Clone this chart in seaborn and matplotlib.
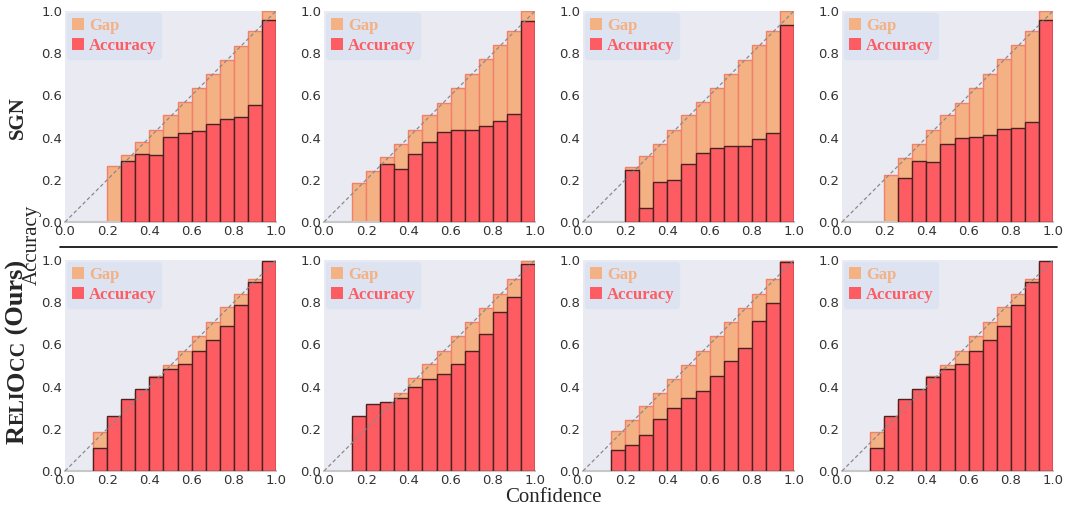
import numpy as np
import pandas as pd
import matplotlib
matplotlib.use("Agg")
import matplotlib.pyplot as plt
from matplotlib.patches import Patch
from matplotlib.lines import Line2D
import seaborn as sns

# ---- data (15 confidence bins, 0 = empty bin) ----
n_bins = 15
bin_centers = (np.arange(n_bins) + 0.5) / n_bins

sgn_conf = [
    [0, 0, 0, 0.264, 0.316, 0.378, 0.438, 0.509, 0.567, 0.633, 0.700, 0.766, 0.836, 0.904, 1.0],
    [0, 0, 0.184, 0.241, 0.307, 0.372, 0.438, 0.509, 0.566, 0.633, 0.701, 0.771, 0.837, 0.903, 1.0],
    [0, 0, 0, 0.259, 0.312, 0.372, 0.435, 0.505, 0.568, 0.634, 0.701, 0.767, 0.837, 0.903, 1.0],
    [0, 0, 0, 0.225, 0.302, 0.372, 0.438, 0.509, 0.566, 0.633, 0.701, 0.771, 0.837, 0.903, 1.0],
]
sgn_acc = [
    [0, 0, 0, 0, 0.291, 0.324, 0.318, 0.401, 0.422, 0.433, 0.466, 0.487, 0.499, 0.556, 0.959],
    [0, 0, 0, 0, 0.275, 0.253, 0.320, 0.377, 0.427, 0.435, 0.435, 0.456, 0.479, 0.513, 0.951],
    [0, 0, 0, 0.248, 0.068, 0.191, 0.201, 0.277, 0.329, 0.353, 0.362, 0.362, 0.392, 0.421, 0.934],
    [0, 0, 0, 0, 0.210, 0.291, 0.286, 0.370, 0.397, 0.405, 0.411, 0.440, 0.446, 0.475, 0.957],
]
ours_conf = [
    [0, 0, 0.186, 0.250, 0.320, 0.375, 0.448, 0.503, 0.571, 0.638, 0.706, 0.775, 0.841, 0.908, 0.985],
    [0, 0, 0.180, 0.245, 0.310, 0.370, 0.440, 0.505, 0.571, 0.638, 0.706, 0.773, 0.841, 0.908, 0.995],
    [0, 0, 0.189, 0.241, 0.308, 0.370, 0.438, 0.503, 0.571, 0.638, 0.705, 0.773, 0.841, 0.908, 0.995],
    [0, 0, 0.186, 0.250, 0.320, 0.375, 0.448, 0.503, 0.571, 0.638, 0.706, 0.775, 0.841, 0.908, 0.985],
]
ours_acc = [
    [0, 0, 0.111, 0.260, 0.341, 0.389, 0.444, 0.484, 0.508, 0.567, 0.619, 0.689, 0.789, 0.894, 0.995],
    [0, 0, 0.262, 0.317, 0.329, 0.348, 0.400, 0.438, 0.462, 0.508, 0.570, 0.651, 0.752, 0.825, 0.979],
    [0, 0, 0.098, 0.122, 0.171, 0.246, 0.300, 0.348, 0.379, 0.451, 0.522, 0.584, 0.710, 0.798, 0.989],
    [0, 0, 0.111, 0.260, 0.341, 0.389, 0.444, 0.484, 0.508, 0.567, 0.619, 0.689, 0.789, 0.894, 0.995],
]
tick_vals = [0.0, 0.2, 0.4, 0.6, 0.8, 1.0]

GAP_C = "#F4B183"
GAP_EDGE = "#F0806A"
ACC_C = "#FD5C63"
ACC_EDGE = "#4A2222"
SERIF = ["Liberation Serif", "DejaVu Serif"]

sns.set_style("dark")
W, H = 1067, 511
fig = plt.figure(figsize=(W / 100, H / 100), dpi=100)

col_left = [65, 324, 583, 842]
row_top = [11, 260]
ax_size = 211


def draw_panel(ax, conf, acc):
    df = pd.DataFrame({"center": bin_centers, "conf": conf, "acc": acc})
    g = df[df["conf"] > 0]
    a = df[df["acc"] > 0]
    sns.barplot(data=g, x="center", y="conf", native_scale=True, width=1,
                color=GAP_C, edgecolor=GAP_EDGE, linewidth=1, saturation=1,
                errorbar=None, ax=ax, zorder=2)
    sns.barplot(data=a, x="center", y="acc", native_scale=True, width=1,
                color=ACC_C, edgecolor=ACC_EDGE, linewidth=1, saturation=1,
                errorbar=None, ax=ax, zorder=3)
    ax.plot([0, 1], [0, 1], ls=(0, (3, 2)), color="#8a8a8a", lw=0.9, zorder=4)
    ax.set_xlim(0, 1)
    ax.set_ylim(0, 1)
    ax.set_xticks(tick_vals)
    ax.set_yticks(tick_vals)
    ax.set_xticklabels([f"{v:.1f}" for v in tick_vals])
    ax.set_yticklabels([f"{v:.1f}" for v in tick_vals])
    ax.set(xlabel="", ylabel="")
    ax.tick_params(labelsize=9.5, length=0, pad=2, colors="#333333")
    for side in ["top", "left", "right"]:
        ax.spines[side].set_visible(False)
    ax.spines["bottom"].set_color("#c8c8c8")
    ax.spines["bottom"].set_linewidth(1.5)
    handles = [Patch(facecolor=GAP_C, edgecolor="none"), Patch(facecolor=ACC_C, edgecolor="none")]
    leg = ax.legend(handles, ["Gap", "Accuracy"], loc="upper left",
                    prop={"family": SERIF, "weight": "bold", "size": 12},
                    labelcolor=[GAP_C, ACC_C], facecolor="#dce3f1", edgecolor="#dce3f1",
                    framealpha=0.9, handlelength=0.75, handleheight=0.75,
                    handletextpad=0.3, labelspacing=0.25, borderpad=0.28,
                    borderaxespad=0.12, fancybox=True)
    leg.set_zorder(5)


for r, (confs, accs) in enumerate([(sgn_conf, sgn_acc), (ours_conf, ours_acc)]):
    for c in range(4):
        ax = fig.add_axes([col_left[c] / W, 1 - (row_top[r] + ax_size) / H, ax_size / W, ax_size / H])
        draw_panel(ax, confs[c], accs[c])

# separator between the two rows
fig.add_artist(Line2D([60 / W, 1057 / W], [1 - 247 / H] * 2, color="black", lw=1.2))

fig.text(553 / W, 1 - 497 / H, "Confidence", ha="center", va="center", family=SERIF, fontsize=15)
fig.text(32 / W, 1 - 245 / H, "Accuracy", ha="center", va="center", rotation=90, family=SERIF, fontsize=15)
fig.text(18 / W, 1 - 118 / H, "SGN", ha="center", va="center", rotation=90, family=SERIF,
         fontsize=15, fontweight="bold")

# small-caps "RELIOCC (Ours)" stacked bottom to top
pieces = [("R", 19), ("ELI", 14.5), ("O", 19), ("CC", 14.5), (" (Ours)", 19)]
renderer = fig.canvas.get_renderer()
texts, lengths = [], []
for s, size in pieces:
    t = fig.text(0, 0, s, rotation=90, rotation_mode="anchor", ha="left", va="baseline",
                 family=SERIF, fontsize=size, fontweight="bold")
    bb = t.get_window_extent(renderer)
    texts.append(t)
    lengths.append(bb.height)
total = sum(lengths)
y_pix = (H - 352) - total / 2
x_pix = 24
for t, L in zip(texts, lengths):
    t.set_position((x_pix / W, y_pix / H))
    y_pix += L

fig.savefig("out.png", dpi=100)
